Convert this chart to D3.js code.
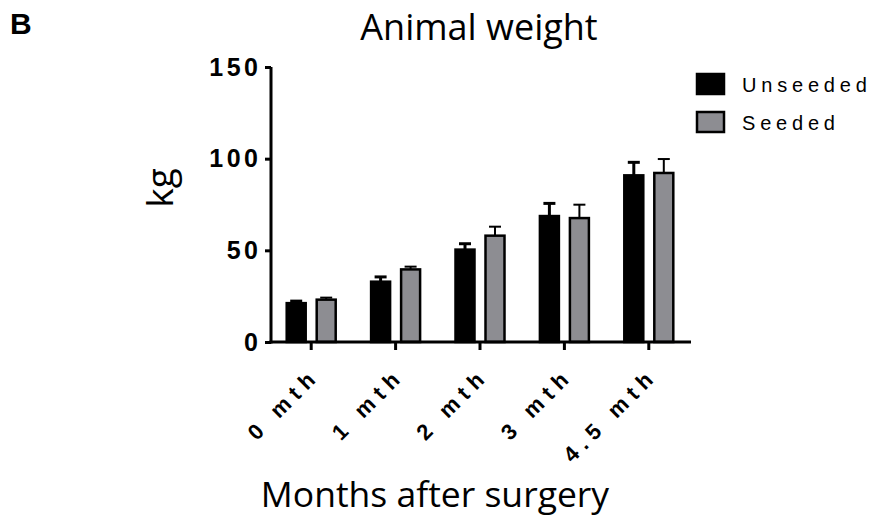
<!DOCTYPE html>
<html><head><meta charset="utf-8">
<script src="https://cdn.jsdelivr.net/npm/d3@7"></script>
<style>body{margin:0;background:#fff}</style>
</head><body>
<svg id="c" width="874" height="517"></svg>
<script>
const categories = ["0 mth","1 mth","2 mth","3 mth","4.5 mth"];
const seriesNames = ["Unseeded","Seeded"];
const unseeded = [21.2, 32.9, 50.4, 68.7, 90.9];
const unseededErr = [1.1, 2.6, 3.2, 6.9, 7.1];
const seeded = [23.1, 39.6, 58.0, 67.6, 92.2];
const seededErr = [1.1, 1.5, 4.9, 7.3, 7.6];
const yTicks = [0, 50, 100, 150];

const svg = d3.select("#c");
const x = d3.scaleBand().domain(categories).range([269, 691]);
const y = d3.scaleLinear().domain([0,150]).range([342, 67]);
const colors = ["#000000", "#8d8d92"];
const data = [
  {vals: unseeded, errs: unseededErr},
  {vals: seeded, errs: seededErr}
];
const barW = 19, gap = 11;

// bars
data.forEach((s, si) => {
  const g = svg.append("g");
  categories.forEach((c, i) => {
    const cx = x(c) + x.bandwidth()/2;
    const bx = si === 0 ? cx - gap/2 - barW : cx + gap/2;
    const v = s.vals[i], e = s.errs[i];
    const mid = bx + barW/2;
    const sw = si === 0 ? 3 : 2;
    g.append("line").attr("x1", mid).attr("x2", mid)
      .attr("y1", y(v)).attr("y2", y(v+e))
      .attr("stroke", "#000").attr("stroke-width", sw);
    g.append("line").attr("x1", mid-6).attr("x2", mid+6)
      .attr("y1", y(v+e)).attr("y2", y(v+e))
      .attr("stroke", "#000").attr("stroke-width", sw);
    g.append("rect").attr("x", bx).attr("y", y(v))
      .attr("width", barW).attr("height", y(0)-y(v))
      .attr("fill", colors[si]).attr("stroke", "#000").attr("stroke-width", 2.5);
  });
});

// y axis
const yls = 3.5;
const ya = svg.append("g").attr("transform", "translate(271,0)")
  .call(d3.axisLeft(y).tickValues(yTicks).tickSize(6).tickPadding(0));
ya.select(".domain").attr("stroke-width", 3).attr("d", `M0,${y(150)}V${y(0)+1.5}`);
ya.selectAll(".tick line").attr("stroke-width", 3);
ya.selectAll("text").attr("font-family", "Liberation Sans, Arial, sans-serif")
  .attr("font-weight", "bold").attr("font-size", 25).attr("letter-spacing", yls).attr("fill", "#000")
  .attr("x", -13 + yls);

// x axis
const xa = svg.append("g").attr("transform", `translate(0,${y(0)})`)
  .call(d3.axisBottom(x).tickSize(8).tickSizeOuter(0));
xa.select(".domain").attr("stroke-width", 3).attr("d", `M269.5,0H691`);
xa.selectAll(".tick line").attr("stroke-width", 3);
xa.selectAll("text").attr("font-family", "Liberation Sans, Arial, sans-serif")
  .attr("font-weight", "bold").attr("font-size", 22).attr("letter-spacing", 6.5).attr("fill", "#000")
  .attr("text-anchor", "end").attr("dy", null).attr("y", 0)
  .attr("transform", "translate(10,35) rotate(-45)");

// titles
svg.append("text").attr("x", 10).attr("y", 34).text("B")
  .attr("font-family", "Liberation Sans, Arial, sans-serif").attr("font-weight", "bold").attr("font-size", 30);
svg.append("text").attr("x", 479).attr("y", 40).attr("text-anchor", "middle").text("Animal weight")
  .attr("font-family", "Open Sans, sans-serif").attr("font-size", 36);
svg.append("text").attr("transform", "translate(173,188) rotate(-90)").attr("text-anchor", "middle").text("kg")
  .attr("font-family", "Open Sans, sans-serif").attr("font-size", 37);
svg.append("text").attr("x", 435).attr("y", 507).attr("text-anchor", "middle").text("Months after surgery")
  .attr("font-family", "Open Sans, sans-serif").attr("font-size", 35.5);

// legend
seriesNames.forEach((n, i) => {
  const ly = 74 + i*38;
  svg.append("rect").attr("x", 697).attr("y", ly).attr("width", 27).attr("height", 20)
    .attr("fill", colors[i]).attr("stroke", "#000").attr("stroke-width", 2.5);
  svg.append("text").attr("x", 742).attr("y", ly + 18).text(n)
    .attr("font-family", "Liberation Sans, Arial, sans-serif").attr("font-size", 20).attr("letter-spacing", 4.8);
});
</script>
</body></html>
